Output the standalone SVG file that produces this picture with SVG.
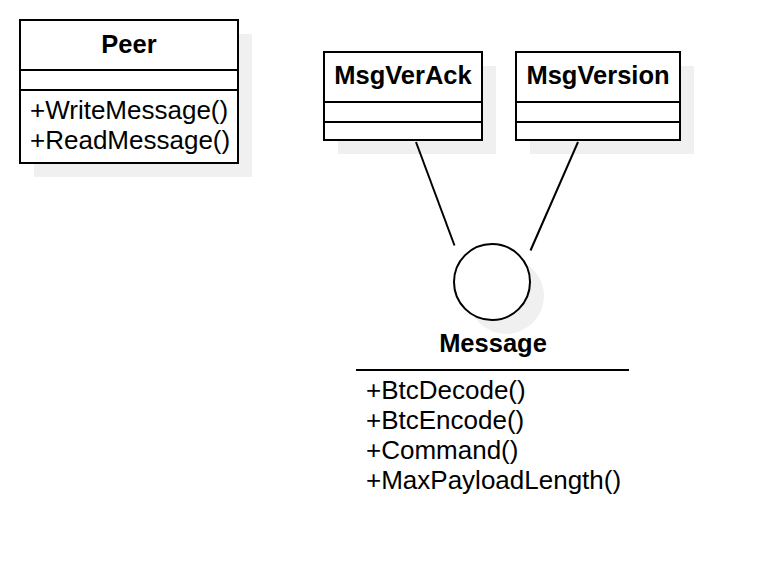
<svg xmlns="http://www.w3.org/2000/svg" width="758" height="586" viewBox="0 0 758 586">
<style>
.box{fill:#ffffff;stroke:#000000;stroke-width:2}
.shadow{fill:#f0f0f0;stroke:none}
.div{stroke:#000000;stroke-width:2}
.title{font-family:"Liberation Sans",Arial,sans-serif;font-weight:bold;font-size:25.5px;fill:#000000;text-anchor:middle}
.member{font-family:"Liberation Sans",Arial,sans-serif;font-size:26px;fill:#000000}
.conn{stroke:#000000;stroke-width:2;fill:none}
</style>
<rect width="758" height="586" fill="#ffffff"/>
<g id="peer">
<rect class="shadow" x="34" y="34" width="218" height="143"/>
<rect class="box" x="20" y="20" width="218" height="143"/>
<line class="div" x1="20" y1="70" x2="238" y2="70"/>
<line class="div" x1="20" y1="90" x2="238" y2="90"/>
<text class="title" x="129" y="53">Peer</text>
<text class="member" x="30" y="119">+WriteMessage()</text>
<text class="member" x="30" y="149">+ReadMessage()</text>
</g>
<g id="msgverack">
<rect class="shadow" x="338" y="66" width="158" height="88"/>
<rect class="box" x="324" y="52" width="158" height="88"/>
<line class="div" x1="324" y1="102" x2="482" y2="102"/>
<line class="div" x1="324" y1="122" x2="482" y2="122"/>
<text class="title" x="403" y="84">MsgVerAck</text>
</g>
<g id="msgversion">
<rect class="shadow" x="530" y="66" width="164" height="88"/>
<rect class="box" x="516" y="52" width="164" height="88"/>
<line class="div" x1="516" y1="102" x2="680" y2="102"/>
<line class="div" x1="516" y1="122" x2="680" y2="122"/>
<text class="title" x="598" y="84">MsgVersion</text>
</g>
<g id="connectors">
<line class="conn" x1="416" y1="142" x2="454.5" y2="245.5"/>
<line class="conn" x1="578" y1="142" x2="530.5" y2="250.5"/>
</g>
<g id="message">
<circle class="shadow" cx="506" cy="296" r="38"/>
<circle class="box" cx="492" cy="282" r="38"/>
<text class="title" x="493" y="352">Message</text>
<line class="div" x1="356" y1="370" x2="629" y2="370"/>
<text class="member" x="366" y="399">+BtcDecode()</text>
<text class="member" x="366" y="429">+BtcEncode()</text>
<text class="member" x="366" y="459">+Command()</text>
<text class="member" x="366" y="489">+MaxPayloadLength()</text>
</g>
</svg>
